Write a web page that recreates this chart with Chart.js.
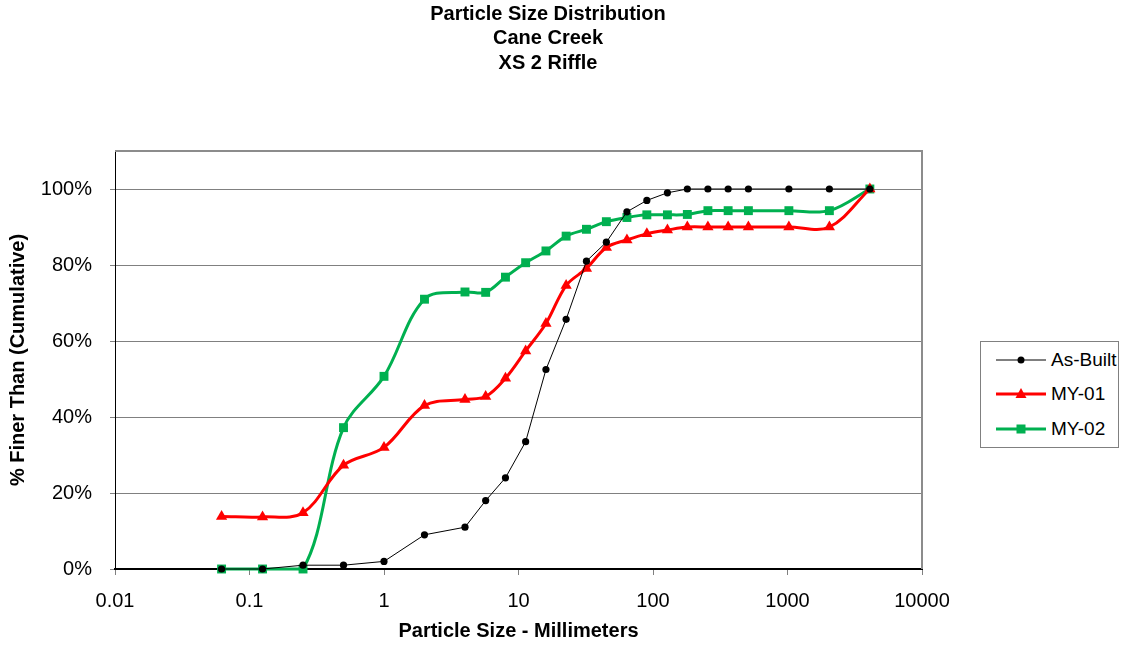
<!DOCTYPE html>
<html>
<head>
<meta charset="utf-8">
<title>Particle Size Distribution - Cane Creek XS 2 Riffle</title>
<script src="https://cdn.jsdelivr.net/npm/chart.js@4/dist/chart.umd.min.js"></script>
<style>
  html, body { margin: 0; padding: 0; background: #fff; }
  #wrap { position: relative; width: 1126px; height: 645px; }
  #legend {
    position: absolute; left: 980px; top: 341px; width: 137px; height: 105px;
    border: 1px solid #808080; background: #fff;
    font-family: "Liberation Sans", Arial, sans-serif; font-size: 19px; color: #000;
  }
  .row { position: absolute; left: 14px; height: 20px; display: flex; align-items: center; }
  .row svg { margin-right: 4px; }
</style>
</head>
<body>
<div id="wrap">
  <canvas id="psdChart" width="1126" height="645"></canvas>
  <div id="legend">
    <div class="row" style="top:8px">
      <svg width="52" height="20"><line x1="1" y1="10" x2="51" y2="10" stroke="#000" stroke-width="1"/><circle cx="26" cy="10" r="3.5" fill="#000"/></svg>As-Built
    </div>
    <div class="row" style="top:42px">
      <svg width="52" height="20"><line x1="1" y1="10" x2="51" y2="10" stroke="#ff0000" stroke-width="3"/><polygon points="26,4 31.5,14 20.5,14" fill="#ff0000"/></svg>MY-01
    </div>
    <div class="row" style="top:77px">
      <svg width="52" height="20"><line x1="1" y1="10" x2="51" y2="10" stroke="#00b050" stroke-width="3"/><rect x="21.5" y="5.5" width="9" height="9" fill="#00b050"/></svg>MY-02
    </div>
  </div>
</div>
<script>
// sieve sizes (mm)
const sizes = [0.062, 0.125, 0.25, 0.5, 1, 2, 4, 5.7, 8, 11.3, 16, 22.6, 32, 45, 64, 90, 128, 180, 256, 362, 512, 1024, 2048, 4096];

// % finer than
const asBuilt = [0, 0, 1, 1, 2, 9, 11, 18, 24, 33.5, 52.5, 65.7, 81, 86, 94, 97, 99, 100, 100, 100, 100, 100, 100, 100];
const my01 = [13.8, 13.7, 14.8, 27.3, 32, 43, 44.6, 45.4, 50.2, 57.4, 64.6, 74.6, 79.1, 84.6, 86.6, 88.2, 89.2, 90, 90, 90, 90, 90, 90, 100];
const my02 = [0, 0, 0, 37.2, 50.7, 71, 72.9, 72.8, 76.8, 80.6, 83.7, 87.6, 89.4, 91.4, 92.5, 93.2, 93.2, 93.3, 94.3, 94.3, 94.3, 94.3, 94.3, 100];

const xTicks = [0.01, 0.1, 1, 10, 100, 1000, 10000];
const xLabels = ['0.01', '0.1', '1', '10', '100', '1000', '10000'];
const yTicks = [0, 20, 40, 60, 80, 100];

const titleLines = ['Particle Size Distribution', 'Cane Creek', 'XS 2 Riffle'];

function toPoints(vals) {
  return sizes.map((s, i) => ({ x: s, y: vals[i] }));
}

const FONT = '"Liberation Sans", Arial, sans-serif';

const framePlugin = {
  id: 'frame',
  afterDraw(chart) {
    const ctx = chart.ctx;
    const a = chart.chartArea;
    ctx.save();
    // gray top/right frame of the plot area
    ctx.strokeStyle = '#8c8c8c';
    ctx.lineWidth = 2;
    ctx.beginPath();
    ctx.moveTo(a.left, a.top);
    ctx.lineTo(a.right, a.top);
    ctx.lineTo(a.right, a.bottom);
    ctx.stroke();
    // title
    ctx.fillStyle = '#000';
    ctx.font = 'bold 20px ' + FONT;
    ctx.textAlign = 'center';
    ctx.textBaseline = 'middle';
    titleLines.forEach((t, i) => ctx.fillText(t, 548, 14 + i * 24.5));
    ctx.restore();
  }
};

new Chart(document.getElementById('psdChart').getContext('2d'), {
  type: 'scatter',
  data: {
    datasets: [
      {
        label: 'As-Built',
        data: toPoints(asBuilt),
        showLine: true,
        borderColor: '#000',
        backgroundColor: '#000',
        borderWidth: 1,
        pointRadius: 3.6,
        pointBorderWidth: 0,
        tension: 0,
        clip: false
      },
      {
        label: 'MY-01',
        data: toPoints(my01),
        showLine: true,
        borderColor: '#ff0000',
        backgroundColor: '#ff0000',
        borderWidth: 3,
        pointStyle: 'triangle',
        pointRadius: 6.5,
        pointBorderWidth: 0,
        tension: 0.35,
        clip: false
      },
      {
        label: 'MY-02',
        data: toPoints(my02),
        showLine: true,
        borderColor: '#00b050',
        backgroundColor: '#00b050',
        borderWidth: 3,
        pointStyle: 'rect',
        pointRadius: 6.3,
        pointBorderWidth: 0,
        tension: 0.35,
        clip: false
      }
    ]
  },
  options: {
    responsive: false,
    animation: false,
    layout: { padding: { left: 0, top: 151, right: 204, bottom: 0 } },
    plugins: {
      legend: { display: false },
      tooltip: { enabled: false }
    },
    scales: {
      x: {
        type: 'logarithmic',
        min: 0.01,
        max: 10000,
        afterBuildTicks: s => { s.ticks = xTicks.map(v => ({ value: v })); },
        afterFit: s => { s.height = 76; },
        ticks: {
          color: '#000',
          font: { family: FONT, size: 20 },
          padding: 14,
          maxRotation: 0,
          autoSkip: false,
          callback: (v, i) => xLabels[i]
        },
        grid: { drawOnChartArea: false, tickLength: 6, tickColor: '#808080' },
        border: { color: '#000', width: 2 },
        title: {
          display: true,
          text: 'Particle Size - Millimeters',
          color: '#000',
          font: { family: FONT, size: 20, weight: 'bold' },
          padding: { top: 0, bottom: 2 }
        }
      },
      y: {
        min: 0,
        max: 110,
        afterBuildTicks: s => { s.ticks = yTicks.map(v => ({ value: v })); },
        afterFit: s => { s.width = 115; },
        ticks: {
          color: '#000',
          font: { family: FONT, size: 20 },
          padding: 18,
          callback: v => v + '%'
        },
        grid: { color: '#808080', lineWidth: 1, tickLength: 5, tickColor: '#808080' },
        border: { color: '#000', width: 1 },
        title: {
          display: true,
          text: '% Finer Than (Cumulative)',
          color: '#000',
          font: { family: FONT, size: 20, weight: 'bold' },
          padding: { top: 6, bottom: 0 }
        }
      }
    }
  },
  plugins: [framePlugin]
});
</script>
</body>
</html>
